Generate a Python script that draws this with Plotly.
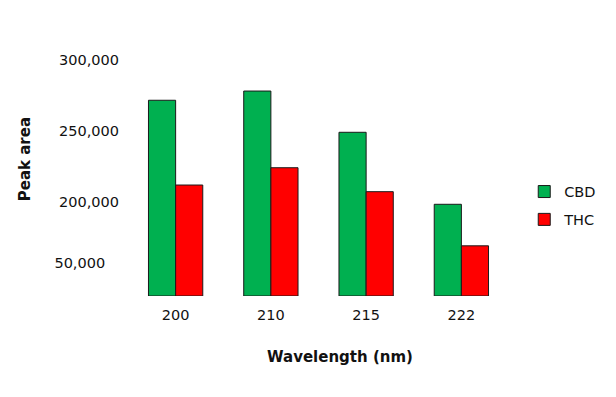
import plotly.graph_objects as go

wavelengths = ["200", "210", "215", "222"]
cbd = [271600, 278100, 249000, 198200]
thc = [211800, 224000, 207100, 168900]
axis_floor = 133500
axis_top = 300000
tick_vals = [156500, 200000, 250000, 300000]
tick_text = ["50,000\u00a0\u00a0\u00a0", "200,000", "250,000", "300,000"]

FONT = "DejaVu Sans"
GREEN = "#00B050"
RED = "#FF0000"
TXT = "#111111"

fig = go.Figure()
fig.add_trace(go.Bar(
    x=wavelengths, y=[v - axis_floor for v in cbd], base=axis_floor, name="CBD",
    marker=dict(color=GREEN, line=dict(color="#1a1a1a", width=1)),
    legendgroup="a",
))
fig.add_trace(go.Bar(
    x=wavelengths, y=[v - axis_floor for v in thc], base=axis_floor, name="THC",
    marker=dict(color=RED, line=dict(color="#1a1a1a", width=1)),
    legendgroup="b",
))

fig.update_layout(
    width=608, height=389,
    margin=dict(l=119.5, r=106.5, t=52, b=101),
    paper_bgcolor="white", plot_bgcolor="white",
    barmode="group", bargap=0.43, bargroupgap=0,
    font=dict(family=FONT, size=14.5, color=TXT),
    showlegend=True,
    legend=dict(x=1.04, xanchor="left", y=0.383, yanchor="middle",
                font=dict(family=FONT, size=14.5, color=TXT),
                traceorder="grouped", tracegroupgap=6,
                bgcolor="rgba(0,0,0,0)"),
    xaxis=dict(showgrid=False, showline=False, ticks="", zeroline=False,
               tickfont=dict(family=FONT, size=14.5, color=TXT),
               ticklabelstandoff=8),
    yaxis=dict(range=[axis_floor, axis_top], showgrid=False, showline=False,
               zeroline=False, ticks="", tickvals=tick_vals, ticktext=tick_text,
               tickfont=dict(family=FONT, size=14.5, color=TXT),
               ticklabelstandoff=8),
    annotations=[
        dict(text="<b>Peak area</b>", xref="paper", yref="paper",
             x=-0.27, y=0.58, xanchor="center", yanchor="middle",
             textangle=-90, showarrow=False,
             font=dict(family=FONT, size=15, color=TXT)),
        dict(text="<b>Wavelength (nm)</b>", xref="paper", yref="paper",
             x=0.557, y=-0.258, xanchor="center", yanchor="middle",
             showarrow=False,
             font=dict(family=FONT, size=15, color=TXT)),
    ],
)

fig.write_html("out.html")
